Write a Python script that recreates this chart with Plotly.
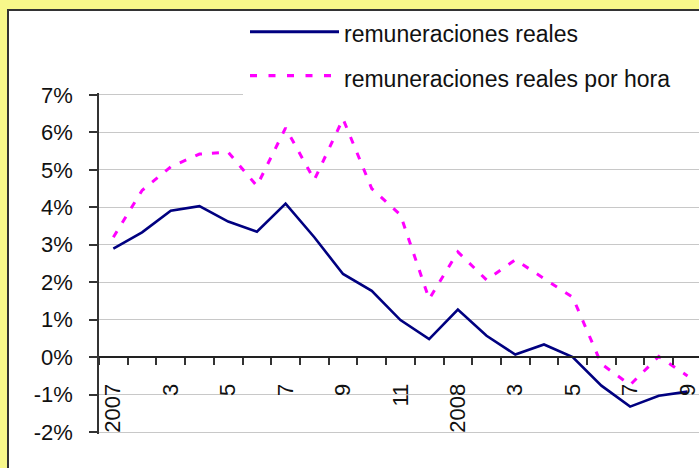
import plotly.graph_objects as go

# ---- data ----
months = list(range(21))  # Jan 2007 .. Sep 2008
tick_positions = [0, 2, 4, 6, 8, 10, 12, 14, 16, 18, 20]
tick_labels = ["2007", "3", "5", "7", "9", "11", "2008", "3", "5", "7", "9"]
remuneraciones_reales = [2.9, 3.33, 3.91, 4.03, 3.62, 3.35, 4.1, 3.2, 2.22, 1.77,
                         0.99, 0.48, 1.27, 0.57, 0.07, 0.34, 0.0, -0.76, -1.32, -1.03, -0.92]
remuneraciones_por_hora = [3.2, 4.45, 5.08, 5.42, 5.47, 4.57, 6.12, 4.73, 6.36, 4.5,
                           3.8, 1.55, 2.81, 2.06, 2.6, 2.1, 1.6, -0.18, -0.74, 0.02, -0.5]
y_tick_vals = [-2, -1, 0, 1, 2, 3, 4, 5, 6, 7]
series_names = ["remuneraciones reales", "remuneraciones reales por hora"]

# ---- geometry helpers (layout only) ----
W, H = 699, 468
ML, MR, MT, MB = 99, 0, 93, 34
PW, PH = W - ML - MR, H - MT - MB
YR = [-2.05, 7.05]
YELLOW = "#F8F88A"


def px(xp):
    return (xp - ML) / PW


def py(yp):
    return (H - MB - yp) / PH


FONT = "Liberation Sans, Arial, sans-serif"

fig = go.Figure()
fig.add_trace(go.Scatter(x=months, y=remuneraciones_reales, mode="lines",
                         name=series_names[0], showlegend=False,
                         line=dict(color="#000080", width=2.6)))
fig.add_trace(go.Scatter(x=months, y=remuneraciones_por_hora, mode="lines",
                         name=series_names[1], showlegend=False,
                         line=dict(color="#FF00FF", width=3, dash="7px,10px")))

shapes = [
    # chart area with border
    dict(type="rect", xref="paper", yref="paper", x0=px(8), x1=px(740), y0=py(500), y1=py(10),
         line=dict(color="#333333", width=2), fillcolor="white", layer="below"),
    # legend box
    dict(type="rect", xref="paper", yref="paper", x0=px(243), x1=px(720), y0=py(96), y1=py(11.5),
         line=dict(width=0), fillcolor="white", layer="above"),
    dict(type="line", xref="paper", yref="paper", x0=px(250), x1=px(339), y0=py(31.7), y1=py(31.7),
         line=dict(color="#000080", width=3), layer="above"),
    dict(type="line", xref="paper", yref="paper", x0=px(250), x1=px(332), y0=py(75.7), y1=py(75.7),
         line=dict(color="#FF00FF", width=3.3, dash="7px,11.5px"), layer="above"),
]
annotations = [
    dict(xref="paper", yref="paper", x=px(342), y=py(34.5), text=series_names[0],
         showarrow=False, xanchor="left", yanchor="middle",
         font=dict(family=FONT, size=23, color="#111111")),
    dict(xref="paper", yref="paper", x=px(342), y=py(79), text=series_names[1],
         showarrow=False, xanchor="left", yanchor="middle",
         font=dict(family=FONT, size=23, color="#111111")),
]

fig.update_layout(
    width=W, height=H, autosize=False,
    margin=dict(l=ML, r=MR, t=MT, b=MB, pad=0),
    paper_bgcolor=YELLOW, plot_bgcolor="white",
    font=dict(family=FONT, size=22, color="#111111"),
    shapes=shapes, annotations=annotations, showlegend=False,
    xaxis=dict(
        range=[-0.5, 20.4], tickmode="array", tickvals=tick_positions, ticktext=tick_labels,
        tickangle=-90, ticks="outside", ticklen=7, tickcolor="rgba(0,0,0,0)",
        ticklabelstandoff=10, ticklabeloverflow="allow",
        showgrid=False, zeroline=False, showline=True, linecolor="#222222", linewidth=1.5,
        anchor="free", position=(0 - YR[0]) / (YR[1] - YR[0]),
        minor=dict(tick0=0.5, dtick=1, ticks="outside", ticklen=7, tickcolor="#333333",
                   tickwidth=1.5, showgrid=False),
        tickfont=dict(family=FONT, size=22, color="#111111"),
    ),
    yaxis=dict(
        range=YR, tickmode="array", tickvals=y_tick_vals,
        ticktext=[f"{v}%" for v in y_tick_vals],
        ticks="outside", ticklen=8, tickcolor="#333333", tickwidth=1.5,
        ticklabelstandoff=12,
        showgrid=True, gridcolor="#c8c8c8", gridwidth=1.3, zeroline=False,
        showline=True, linecolor="#333333", linewidth=1.5,
        tickfont=dict(family=FONT, size=22, color="#111111"),
    ),
)

fig.write_html(
    "out.html",
    config={"displayModeBar": False},
    post_script="document.body.style.margin='0';document.body.style.padding='0';"
                "document.body.style.overflow='hidden';"
                f"document.body.style.background='{YELLOW}';",
)
